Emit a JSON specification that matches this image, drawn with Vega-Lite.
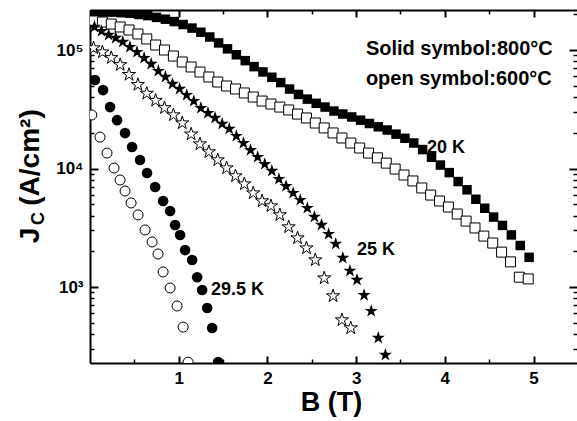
{
  "$schema": "https://vega.github.io/schema/vega-lite/v6.json",
  "width": 487,
  "height": 353,
  "autosize": {"type": "none"},
  "padding": {"left": 90, "top": 10, "right": 0, "bottom": 58},
  "background": "white",
  "config": {
    "view": {"stroke": null},
    "axis": {"grid": false, "labelFont": "Liberation Sans", "titleFont": "Liberation Sans", "labelColor": "black", "titleColor": "black", "tickColor": "black", "domainColor": "black"}
  },
  "resolve": {"axis": {"x": "independent", "y": "independent"}},
  "datasets": {
    "pts": [
      {"s":"fsq","B":0.05,"J":208900},{"s":"fsq","B":0.15,"J":208900},{"s":"fsq","B":0.25,"J":208900},{"s":"fsq","B":0.35,"J":206500},{"s":"fsq","B":0.45,"J":204200},
      {"s":"fsq","B":0.55,"J":199500},{"s":"fsq","B":0.65,"J":195000},{"s":"fsq","B":0.75,"J":188400},{"s":"fsq","B":0.85,"J":182000},{"s":"fsq","B":0.95,"J":173800},
      {"s":"fsq","B":1.05,"J":164100},{"s":"fsq","B":1.15,"J":153100},{"s":"fsq","B":1.25,"J":141300},{"s":"fsq","B":1.35,"J":128800},{"s":"fsq","B":1.45,"J":114800},
      {"s":"fsq","B":1.55,"J":102300},{"s":"fsq","B":1.65,"J":91200},{"s":"fsq","B":1.75,"J":81300},{"s":"fsq","B":1.85,"J":72400},{"s":"fsq","B":1.95,"J":65300},
      {"s":"fsq","B":2.05,"J":58900},{"s":"fsq","B":2.15,"J":53100},{"s":"fsq","B":2.25,"J":46800},{"s":"fsq","B":2.35,"J":42200},{"s":"fsq","B":2.45,"J":38500},
      {"s":"fsq","B":2.55,"J":35500},{"s":"fsq","B":2.65,"J":33000},{"s":"fsq","B":2.75,"J":30550},{"s":"fsq","B":2.85,"J":28840},{"s":"fsq","B":2.95,"J":27230},
      {"s":"fsq","B":3.05,"J":25590},{"s":"fsq","B":3.15,"J":23990},{"s":"fsq","B":3.25,"J":22490},{"s":"fsq","B":3.35,"J":21130},{"s":"fsq","B":3.45,"J":19500},
      {"s":"fsq","B":3.55,"J":17990},{"s":"fsq","B":3.65,"J":16410},{"s":"fsq","B":3.75,"J":14450},{"s":"fsq","B":3.85,"J":12450},{"s":"fsq","B":3.95,"J":10700},
      {"s":"fsq","B":4.05,"J":9230},{"s":"fsq","B":4.15,"J":7760},{"s":"fsq","B":4.25,"J":6610},{"s":"fsq","B":4.35,"J":5500},{"s":"fsq","B":4.45,"J":4620},
      {"s":"fsq","B":4.55,"J":3890},{"s":"fsq","B":4.65,"J":3310},{"s":"fsq","B":4.75,"J":2750},{"s":"fsq","B":4.85,"J":2240},{"s":"fsq","B":4.95,"J":1780},

      {"s":"osq","B":0.04,"J":175800},{"s":"osq","B":0.14,"J":172200},{"s":"osq","B":0.24,"J":165600},{"s":"osq","B":0.34,"J":156400},{"s":"osq","B":0.44,"J":147600},
      {"s":"osq","B":0.54,"J":136500},{"s":"osq","B":0.64,"J":123900},{"s":"osq","B":0.74,"J":110200},{"s":"osq","B":0.84,"J":100000},{"s":"osq","B":0.94,"J":89000},
      {"s":"osq","B":1.04,"J":79200},{"s":"osq","B":1.14,"J":71900},{"s":"osq","B":1.24,"J":65200},{"s":"osq","B":1.34,"J":59200},{"s":"osq","B":1.44,"J":53700},
      {"s":"osq","B":1.54,"J":49700},{"s":"osq","B":1.64,"J":46900},{"s":"osq","B":1.74,"J":43400},{"s":"osq","B":1.84,"J":40100},{"s":"osq","B":1.94,"J":37100},
      {"s":"osq","B":2.04,"J":35000},{"s":"osq","B":2.14,"J":33000},{"s":"osq","B":2.24,"J":31200},{"s":"osq","B":2.34,"J":28800},{"s":"osq","B":2.44,"J":26700},
      {"s":"osq","B":2.54,"J":24200},{"s":"osq","B":2.64,"J":22000},{"s":"osq","B":2.74,"J":19950},{"s":"osq","B":2.84,"J":18100},{"s":"osq","B":2.94,"J":16400},
      {"s":"osq","B":3.04,"J":14900},{"s":"osq","B":3.14,"J":13500},{"s":"osq","B":3.24,"J":12300},{"s":"osq","B":3.34,"J":11100},{"s":"osq","B":3.44,"J":9900},
      {"s":"osq","B":3.54,"J":8810},{"s":"osq","B":3.64,"J":7850},{"s":"osq","B":3.74,"J":6850},{"s":"osq","B":3.84,"J":5970},{"s":"osq","B":3.94,"J":5320},
      {"s":"osq","B":4.04,"J":4730},{"s":"osq","B":4.14,"J":4130},{"s":"osq","B":4.24,"J":3600},{"s":"osq","B":4.34,"J":3150},{"s":"osq","B":4.44,"J":2690},
      {"s":"osq","B":4.54,"J":2350},{"s":"osq","B":4.64,"J":1970},{"s":"osq","B":4.74,"J":1630},{"s":"osq","B":4.84,"J":1210},{"s":"osq","B":4.94,"J":1170},

      {"s":"fst","B":0.05,"J":156400},{"s":"fst","B":0.13,"J":144500},{"s":"fst","B":0.21,"J":133900},{"s":"fst","B":0.29,"J":126300},{"s":"fst","B":0.37,"J":116900},
      {"s":"fst","B":0.45,"J":106000},{"s":"fst","B":0.53,"J":96200},{"s":"fst","B":0.61,"J":85600},{"s":"fst","B":0.69,"J":76200},{"s":"fst","B":0.77,"J":66500},
      {"s":"fst","B":0.85,"J":59200},{"s":"fst","B":0.93,"J":51700},{"s":"fst","B":1.01,"J":46900},{"s":"fst","B":1.09,"J":41700},{"s":"fst","B":1.17,"J":37100},
      {"s":"fst","B":1.25,"J":32400},{"s":"fst","B":1.33,"J":29400},{"s":"fst","B":1.41,"J":26700},{"s":"fst","B":1.49,"J":23800},{"s":"fst","B":1.57,"J":21600},
      {"s":"fst","B":1.65,"J":18800},{"s":"fst","B":1.73,"J":16400},{"s":"fst","B":1.81,"J":14300},{"s":"fst","B":1.89,"J":12500},{"s":"fst","B":1.97,"J":10900},
      {"s":"fst","B":2.05,"J":9530},{"s":"fst","B":2.13,"J":8150},{"s":"fst","B":2.21,"J":7110},{"s":"fst","B":2.29,"J":6210},{"s":"fst","B":2.37,"J":5420},
      {"s":"fst","B":2.45,"J":4640},{"s":"fst","B":2.53,"J":3900},{"s":"fst","B":2.61,"J":3340},{"s":"fst","B":2.69,"J":2800},{"s":"fst","B":2.77,"J":2310},
      {"s":"fst","B":2.85,"J":1760},{"s":"fst","B":2.93,"J":1370},{"s":"fst","B":3.01,"J":1150},{"s":"fst","B":3.09,"J":855},{"s":"fst","B":3.17,"J":627},
      {"s":"fst","B":3.25,"J":372},{"s":"fst","B":3.33,"J":267},

      {"s":"ost","B":0.04,"J":104000},{"s":"ost","B":0.14,"J":96000},{"s":"ost","B":0.24,"J":86000},{"s":"ost","B":0.34,"J":75000},{"s":"ost","B":0.44,"J":62000},
      {"s":"ost","B":0.54,"J":51000},{"s":"ost","B":0.64,"J":43000},{"s":"ost","B":0.74,"J":37500},{"s":"ost","B":0.84,"J":32500},{"s":"ost","B":0.94,"J":28300},
      {"s":"ost","B":1.04,"J":24200},{"s":"ost","B":1.14,"J":19500},{"s":"ost","B":1.24,"J":16100},{"s":"ost","B":1.34,"J":13800},{"s":"ost","B":1.44,"J":11800},
      {"s":"ost","B":1.54,"J":10100},{"s":"ost","B":1.64,"J":8650},{"s":"ost","B":1.74,"J":7400},{"s":"ost","B":1.84,"J":6210},{"s":"ost","B":1.94,"J":5320},
      {"s":"ost","B":2.04,"J":4830},{"s":"ost","B":2.14,"J":4060},{"s":"ost","B":2.24,"J":3210},{"s":"ost","B":2.34,"J":2590},{"s":"ost","B":2.44,"J":2130},
      {"s":"ost","B":2.54,"J":1690},{"s":"ost","B":2.64,"J":1190},{"s":"ost","B":2.74,"J":840},{"s":"ost","B":2.84,"J":527},{"s":"ost","B":2.94,"J":451},

      {"s":"fci","B":0.056,"J":55800},{"s":"fci","B":0.147,"J":45900},{"s":"fci","B":0.226,"J":33000},{"s":"fci","B":0.305,"J":25600},{"s":"fci","B":0.395,"J":19900},
      {"s":"fci","B":0.474,"J":15200},{"s":"fci","B":0.564,"J":11800},{"s":"fci","B":0.643,"J":9170},{"s":"fci","B":0.734,"J":6980},{"s":"fci","B":0.824,"J":5320},
      {"s":"fci","B":0.903,"J":4380},{"s":"fci","B":0.959,"J":3340},{"s":"fci","B":1.016,"J":2750},{"s":"fci","B":1.072,"J":2050},{"s":"fci","B":1.151,"J":1690},
      {"s":"fci","B":1.208,"J":1210},{"s":"fci","B":1.264,"J":944},{"s":"fci","B":1.321,"J":665},{"s":"fci","B":1.377,"J":451},{"s":"fci","B":1.445,"J":233},

      {"s":"oci","B":0.02,"J":28300},{"s":"oci","B":0.113,"J":18400},{"s":"oci","B":0.192,"J":13500},{"s":"oci","B":0.271,"J":10100},{"s":"oci","B":0.339,"J":8000},
      {"s":"oci","B":0.395,"J":6460},{"s":"oci","B":0.463,"J":5120},{"s":"oci","B":0.542,"J":4060},{"s":"oci","B":0.621,"J":3030},{"s":"oci","B":0.7,"J":2400},
      {"s":"oci","B":0.767,"J":1900},{"s":"oci","B":0.824,"J":1340},{"s":"oci","B":0.903,"J":981},{"s":"oci","B":0.982,"J":692},{"s":"oci","B":1.05,"J":459},
      {"s":"oci","B":1.106,"J":232}
    ],
    "ann": [
      {"label":"Solid symbol:800°C","B":3.11,"J":90750,"k":"legend"},
      {"label":"open symbol:600°C","B":3.11,"J":50700,"k":"legend"},
      {"label":"20 K","B":3.8,"J":13500,"k":"curve"},
      {"label":"25 K","B":3.01,"J":1862,"k":"curve"},
      {"label":"29.5 K","B":1.364,"J":856,"k":"curve"}
    ]
  },
  "layer": [
    {
      "data": {"name": "pts"},
      "transform": [{"filter": "datum.s == 'fsq'"}],
      "mark": {"type": "point", "shape": "square", "filled": true, "color": "black", "size": 90, "opacity": 1, "clip": true},
      "encoding": {
        "x": {"field": "B", "type": "quantitative", "scale": {"domain": [0, 5.49], "nice": false, "zero": false},
          "axis": {"orient": "bottom", "values": [1,2,3,4,5], "ticks": false, "domain": true, "domainWidth": 2, "labels": true, "labelFontSize": 17, "labelFontWeight": "bold", "labelPadding": 7, "labelFlush": false, "labelOverlap": false, "format": "d",
            "title": "B (T)", "titleFontSize": 27, "titleFontWeight": "bold", "titleX": 241, "titleY": 47, "titleBaseline": "alphabetic", "titleAlign": "center"}},
        "y": {"field": "J", "type": "quantitative", "scale": {"type": "log", "domain": [228.4, 217600], "nice": false},
          "axis": {"orient": "left", "values": [1000, 10000, 100000], "ticks": false, "domain": true, "domainWidth": 2, "labels": true, "labelFontSize": 17, "labelFontWeight": "bold", "labelPadding": 7, "labelFlush": false, "labelOverlap": false,
            "labelExpr": "datum.value == 1000 ? '10³' : datum.value == 10000 ? '10⁴' : '10⁵'",
            "title": "(A/cm²)", "titleFontSize": 28, "titleFontWeight": "bold", "titleX": -52, "titleY": 147, "titleAngle": 270, "titleBaseline": "alphabetic", "titleAlign": "center"}}
      }
    },
    {
      "data": {"name": "pts"},
      "transform": [{"filter": "datum.s == 'osq'"}],
      "mark": {"type": "point", "shape": "square", "filled": true, "fill": "white", "stroke": "black", "strokeWidth": 1, "size": 100, "opacity": 1, "clip": true},
      "encoding": {
        "x": {"field": "B", "type": "quantitative", "scale": {"domain": [0, 5.49], "nice": false, "zero": false},
          "axis": {"orient": "bottom", "values": [1,2,3,4,5], "ticks": true, "tickSize": -7, "tickWidth": 2, "domain": false, "labels": false, "title": null}},
        "y": {"field": "J", "type": "quantitative", "scale": {"type": "log", "domain": [228.4, 217600], "nice": false},
          "axis": {"orient": "left", "values": [1000, 10000, 100000], "ticks": true, "tickSize": -8, "tickWidth": 2, "domain": false, "labels": false,
            "title": "J", "titleFontSize": 28, "titleFontWeight": "bold", "titleX": -52, "titleY": 225, "titleAngle": 270, "titleBaseline": "alphabetic", "titleAlign": "center"}}
      }
    },
    {
      "data": {"name": "pts"},
      "transform": [{"filter": "datum.s == 'fst'"}],
      "mark": {"type": "point", "shape": "M0,-1L0.2245,-0.309L0.951,-0.309L0.363,0.118L0.588,0.809L0,0.382L-0.588,0.809L-0.363,0.118L-0.951,-0.309L-0.2245,-0.309Z", "filled": true, "color": "black", "size": 190, "opacity": 1, "clip": true},
      "encoding": {
        "x": {"field": "B", "type": "quantitative", "scale": {"domain": [0, 5.49], "nice": false, "zero": false},
          "axis": {"orient": "bottom", "values": [0.5,1.5,2.5,3.5,4.5], "ticks": true, "tickSize": -4, "tickWidth": 1.5, "domain": false, "labels": false, "title": null}},
        "y": {"field": "J", "type": "quantitative", "scale": {"type": "log", "domain": [228.4, 217600], "nice": false},
          "axis": {"orient": "left", "values": [300,400,500,600,700,800,900,2000,3000,4000,5000,6000,7000,8000,9000,20000,30000,40000,50000,60000,70000,80000,90000,200000], "ticks": true, "tickSize": -4, "tickWidth": 1.5, "domain": false, "labels": false,
            "title": "C", "titleFontSize": 18, "titleFontWeight": "bold", "titleX": -47, "titleY": 208, "titleAngle": 270, "titleBaseline": "alphabetic", "titleAlign": "center"}}
      }
    },
    {
      "data": {"name": "pts"},
      "transform": [{"filter": "datum.s == 'ost'"}],
      "mark": {"type": "point", "shape": "M0,-1L0.2245,-0.309L0.951,-0.309L0.363,0.118L0.588,0.809L0,0.382L-0.588,0.809L-0.363,0.118L-0.951,-0.309L-0.2245,-0.309Z", "filled": true, "fill": "white", "stroke": "black", "strokeWidth": 1, "size": 190, "opacity": 1, "clip": true},
      "encoding": {
        "x": {"field": "B", "type": "quantitative", "scale": {"domain": [0, 5.49], "nice": false, "zero": false},
          "axis": {"orient": "top", "values": [1,2,3,4,5], "ticks": true, "tickSize": -7, "tickWidth": 2, "domain": true, "domainWidth": 2, "labels": false, "title": null}},
        "y": {"field": "J", "type": "quantitative", "scale": {"type": "log", "domain": [228.4, 217600], "nice": false},
          "axis": {"orient": "right", "values": [1000, 10000, 100000], "ticks": true, "tickSize": -8, "tickWidth": 2, "domain": false, "labels": false, "title": null}}
      }
    },
    {
      "data": {"name": "pts"},
      "transform": [{"filter": "datum.s == 'fci'"}],
      "mark": {"type": "point", "shape": "circle", "filled": true, "color": "black", "size": 113, "opacity": 1, "clip": true},
      "encoding": {
        "x": {"field": "B", "type": "quantitative", "scale": {"domain": [0, 5.49], "nice": false, "zero": false},
          "axis": {"orient": "top", "values": [0.5,1.5,2.5,3.5,4.5], "ticks": true, "tickSize": -4, "tickWidth": 1.5, "domain": false, "labels": false, "title": null}},
        "y": {"field": "J", "type": "quantitative", "scale": {"type": "log", "domain": [228.4, 217600], "nice": false},
          "axis": {"orient": "right", "values": [300,400,500,600,700,800,900,2000,3000,4000,5000,6000,7000,8000,9000,20000,30000,40000,50000,60000,70000,80000,90000,200000], "ticks": true, "tickSize": -4, "tickWidth": 1.5, "domain": false, "labels": false, "title": null}}
      }
    },
    {
      "data": {"name": "pts"},
      "transform": [{"filter": "datum.s == 'oci'"}],
      "mark": {"type": "point", "shape": "circle", "filled": true, "fill": "white", "stroke": "black", "strokeWidth": 1, "size": 100, "opacity": 1, "clip": true},
      "encoding": {
        "x": {"field": "B", "type": "quantitative", "scale": {"domain": [0, 5.49], "nice": false, "zero": false}, "axis": null},
        "y": {"field": "J", "type": "quantitative", "scale": {"type": "log", "domain": [228.4, 217600], "nice": false}, "axis": null}
      }
    },
    {
      "data": {"name": "ann"},
      "transform": [{"filter": "datum.k == 'legend'"}],
      "mark": {"type": "text", "align": "left", "baseline": "alphabetic", "font": "Liberation Sans", "fontWeight": "bold", "fontSize": 20, "color": "black"},
      "encoding": {
        "x": {"field": "B", "type": "quantitative", "scale": {"domain": [0, 5.49], "nice": false, "zero": false}, "axis": null},
        "y": {"field": "J", "type": "quantitative", "scale": {"type": "log", "domain": [228.4, 217600], "nice": false}, "axis": null},
        "text": {"field": "label"}
      }
    },
    {
      "data": {"name": "ann"},
      "transform": [{"filter": "datum.k == 'curve'"}],
      "mark": {"type": "text", "align": "left", "baseline": "alphabetic", "font": "Liberation Sans", "fontWeight": "bold", "fontSize": 18, "color": "black"},
      "encoding": {
        "x": {"field": "B", "type": "quantitative", "scale": {"domain": [0, 5.49], "nice": false, "zero": false}, "axis": null},
        "y": {"field": "J", "type": "quantitative", "scale": {"type": "log", "domain": [228.4, 217600], "nice": false}, "axis": null},
        "text": {"field": "label"}
      }
    }
  ]
}
